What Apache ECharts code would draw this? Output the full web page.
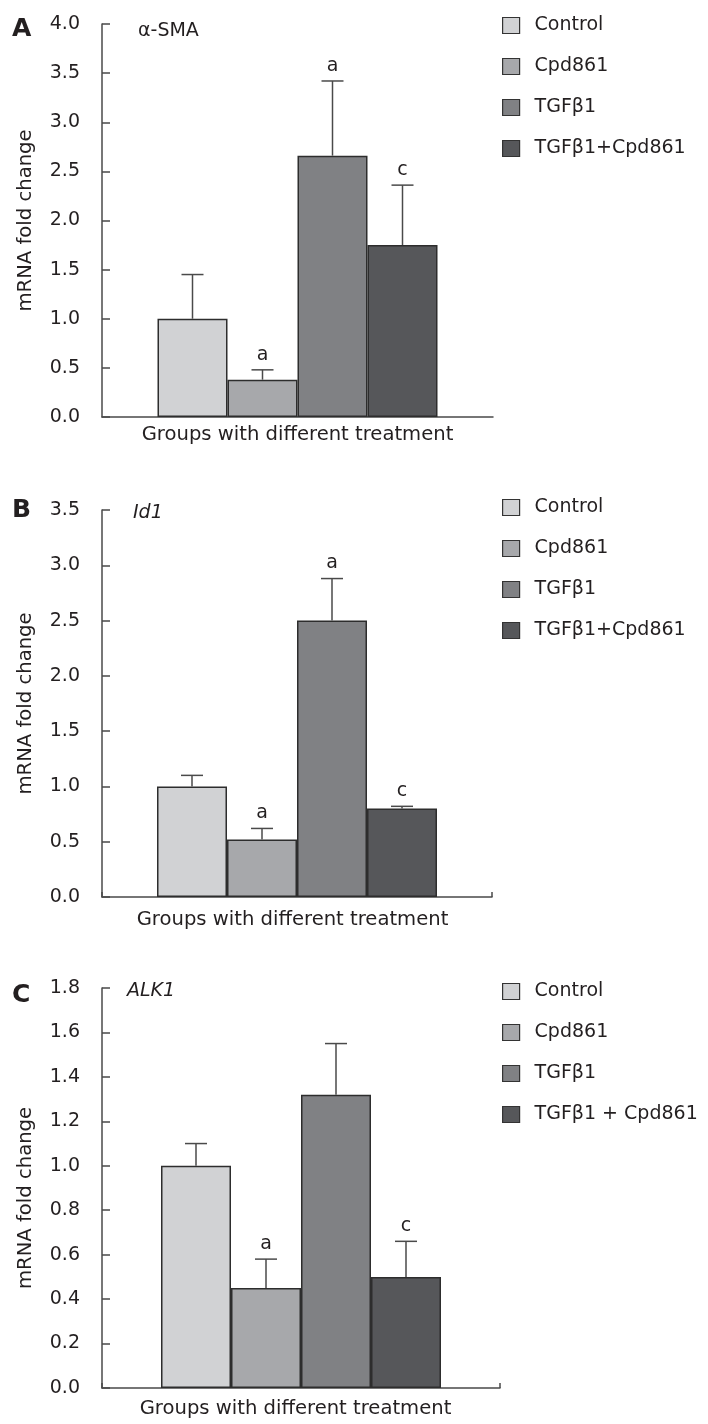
<!DOCTYPE html>
<html><head><meta charset="utf-8">
<script src="https://cdn.jsdelivr.net/npm/echarts@6/dist/echarts.min.js"></script>
<style>html,body{margin:0;padding:0;background:#fff}#c{width:708px;height:1424px}</style>
</head><body><div id="c"></div>
<script>
// ---- data ----
const xAxisTitle = 'Groups with different treatment';
const yAxisTitle = 'mRNA fold change';
const seriesNamesAB = ['Control', 'Cpd861', 'TGFβ1', 'TGFβ1+Cpd861'];
const seriesNamesC = ['Control', 'Cpd861', 'TGFβ1', 'TGFβ1 + Cpd861'];
const panelLetters = ['A', 'B', 'C'];
const geneNames = ['α-SMA', 'Id1', 'ALK1'];
const meanA = [1.00, 0.38, 2.66, 1.75];
const errTopA = [1.45, 0.48, 3.42, 2.36];
const sigA = ['', 'a', 'a', 'c'];
const meanB = [1.00, 0.52, 2.50, 0.80];
const errTopB = [1.10, 0.62, 2.88, 0.82];
const sigB = ['', 'a', 'a', 'c'];
const meanC = [1.00, 0.45, 1.32, 0.50];
const errTopC = [1.10, 0.58, 1.55, 0.66];
const sigC = ['', 'a', '', 'c'];
const yMaxes = [4.0, 3.5, 1.8];
const yIntervals = [0.5, 0.5, 0.2];

// ---- style ----
const FONT = '"DejaVu Sans", Verdana, sans-serif';
const TXT = '#231f20';
const AXIS = '#4a4a4a';
const COLORS = ['#d1d2d4', '#a7a8ab', '#808184', '#56575a'];
const BAR_W = 70;
const CAP = 11;
const grids = [
  { left: 102, top: 24, width: 391, height: 393 },
  { left: 102, top: 510, width: 390, height: 387 },
  { left: 102, top: 988, width: 398, height: 400 }
];
const legendTops = [16, 498, 982];
const geneLeft = [138, 133, 127];
const geneTop = [22, 504, 982];
const letterTop = [17, 498, 983];
const xNameGap = [8, 13, 11];
const xNamePad = [0, [0, 9, 0, 0], [0, 11, 0, 0]];

const panels = [
  { means: meanA, tops: errTopA, sig: sigA, names: seriesNamesAB, italic: false },
  { means: meanB, tops: errTopB, sig: sigB, names: seriesNamesAB, italic: true },
  { means: meanC, tops: errTopC, sig: sigC, names: seriesNamesC, italic: true }
];

const option = {
  animation: false,
  backgroundColor: '#fff',
  textStyle: { fontFamily: FONT },
  title: [],
  legend: [],
  grid: grids.map(g => Object.assign({ containLabel: false, outerBoundsMode: 'none' }, g)),
  xAxis: [],
  yAxis: [],
  series: []
};

panels.forEach((p, gi) => {
  option.title.push({
    text: panelLetters[gi], left: 12, top: letterTop[gi], padding: 0,
    textStyle: { fontSize: 25, fontWeight: 'bold', color: TXT, fontFamily: FONT }
  });
  option.title.push({
    text: geneNames[gi], left: geneLeft[gi], top: geneTop[gi], padding: 0,
    textStyle: { fontSize: 19, fontWeight: 'normal', fontStyle: p.italic ? 'italic' : 'normal', color: TXT, fontFamily: FONT }
  });
  option.legend.push({
    data: p.names, left: 502, top: legendTops[gi], orient: 'vertical', icon: 'rect',
    itemWidth: 17, itemHeight: 16, itemGap: 22, selectedMode: false, padding: 0,
    itemStyle: { borderColor: '#333', borderWidth: 1.2 },
    textStyle: { fontSize: 19, color: TXT, fontFamily: FONT, padding: [0, 0, 0, 10] }
  });
  option.xAxis.push({
    type: 'category', gridIndex: gi, data: ['groups'],
    axisLine: { lineStyle: { color: AXIS, width: 1.5 } },
    axisTick: { show: gi > 0, inside: true, length: 5, lineStyle: { color: AXIS, width: 1.5 } },
    axisLabel: { show: false },
    name: xAxisTitle, nameLocation: 'middle', nameGap: xNameGap[gi],
    nameTextStyle: { fontSize: 19.6, color: TXT, fontFamily: FONT, padding: xNamePad[gi] }
  });
  option.yAxis.push({
    type: 'value', gridIndex: gi, min: 0, max: yMaxes[gi], interval: yIntervals[gi],
    splitLine: { show: false },
    axisLine: { show: true, lineStyle: { color: AXIS, width: 1.5 } },
    axisTick: { show: true, inside: true, length: 8, lineStyle: { color: AXIS, width: 1.5 } },
    axisLabel: { formatter: v => v.toFixed(1), fontSize: 19, color: TXT, margin: 22, fontFamily: FONT },
    name: yAxisTitle, nameLocation: 'middle', nameGap: 66,
    nameTextStyle: { fontSize: 19.6, color: TXT, fontFamily: FONT, padding: gi === 2 ? [0, 20, 0, 0] : 0 }
  });
  p.names.forEach((nm, i) => {
    option.series.push({
      type: 'bar', name: nm, xAxisIndex: gi, yAxisIndex: gi,
      data: [p.means[i]], barWidth: BAR_W, barGap: '0%',
      itemStyle: { color: COLORS[i], borderColor: '#2d2d2d', borderWidth: 1.5 }
    });
  });
  const sig = p.sig;
  option.series.push({
    type: 'custom', xAxisIndex: gi, yAxisIndex: gi, z: 5, silent: true,
    data: p.means.map((m, i) => [0, m, p.tops[i], i]),
    encode: { x: 0, y: 2 },
    renderItem: (params, api) => {
      const i = api.value(3);
      const base = api.coord([0, api.value(1)]);
      const top = api.coord([0, api.value(2)]);
      const x = base[0] + (i - 1.5) * BAR_W;
      const ls = { stroke: AXIS, lineWidth: 1.5 };
      const children = [
        { type: 'line', shape: { x1: x, y1: base[1], x2: x, y2: top[1] }, style: ls },
        { type: 'line', shape: { x1: x - CAP, y1: top[1], x2: x + CAP, y2: top[1] }, style: ls }
      ];
      if (sig[i]) {
        children.push({ type: 'text', x: x, y: top[1] - 15,
          style: { text: sig[i], fill: TXT, font: '19px ' + FONT, align: 'center', verticalAlign: 'middle' } });
      }
      return { type: 'group', children };
    }
  });
});

const chart = echarts.init(document.getElementById('c'), null, { renderer: 'canvas' });
chart.setOption(option);
</script>
</body></html>
